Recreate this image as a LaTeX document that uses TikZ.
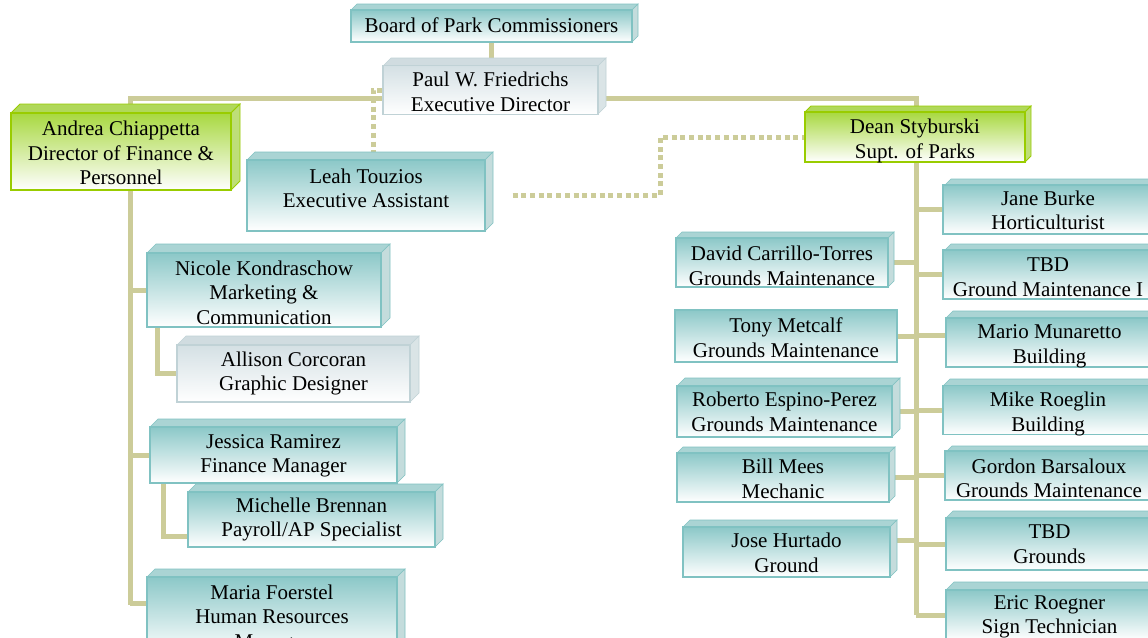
\documentclass[tikz,border=0pt]{standalone}
\usepackage{fontspec}
\setmainfont{Liberation Serif}
\definecolor{connc}{RGB}{204,204,153}
\definecolor{tealedge}{RGB}{128,194,194}
\definecolor{tealtop}{RGB}{140,200,200}
\definecolor{tealside}{RGB}{196,220,220}
\definecolor{tealcap}{RGB}{170,212,212}
\definecolor{greenedge}{RGB}{153,204,0}
\definecolor{greentop}{RGB}{168,216,64}
\definecolor{greenside}{RGB}{190,222,120}
\definecolor{greencap}{RGB}{176,216,90}
\definecolor{greyedge}{RGB}{192,210,214}
\definecolor{greytop}{RGB}{212,224,228}
\definecolor{greyside}{RGB}{218,228,230}
\definecolor{greycap}{RGB}{208,220,224}
\pgfdeclarelayer{paper}
\pgfdeclarelayer{lines}
\pgfsetlayers{paper,lines,main}
\tikzset{
  conn/.style={draw=connc, line width=5pt},
  dotconn/.style={draw=connc, line width=5pt, dash pattern=on 5pt off 3.7pt},
  base front/.style={rectangle, inner sep=0pt, line width=1.2pt,
    font=\fontsize{21}{24.5}\selectfont, text=black},
  teal front/.style={base front, draw=tealedge, top color=tealtop, bottom color=white},
  teal side/.style={fill=tealside, draw=tealedge, line width=0.6pt},
  teal cap/.style={fill=tealcap, draw=tealedge, line width=0.6pt},
  green front/.style={base front, draw=greenedge, line width=1.6pt, top color=greentop, bottom color=white},
  green side/.style={fill=greenside, draw=greenedge, line width=0.8pt},
  green cap/.style={fill=greencap, draw=greenedge, line width=0.8pt},
  grey front/.style={base front, draw=greyedge, top color=greytop, bottom color=white},
  grey side/.style={fill=greyside, draw=greyedge, line width=0.6pt},
  grey cap/.style={fill=greycap, draw=greyedge, line width=0.6pt},
}
% [#1 text raise] #2 scheme, #3 name, #4 left, #5 top, #6 right, #7 bottom, #8 depth, #9 text
\newcommand\orgbox[9][0pt]{%
  \fill[#2 cap] (#4,#5) -- ++(#8,-#8) -- ({#6+#8},{#5-#8}) -- (#6,#5) -- cycle;
  \fill[#2 side] (#6,#5) -- ++(#8,-#8) -- ({#6+#8},{#7-#8}) -- (#6,#7) -- cycle;
  \node[#2 front, minimum width={#6-#4}, minimum height={#7-#5}] (#3)
    at ({(#4+#6)/2},{(#5+#7)/2})
    {\raisebox{#1}[\height][\depth]{\begin{tabular}{@{}c@{}}#9\end{tabular}}};
}
\begin{document}
\begin{tikzpicture}[x=1pt,y=-1pt]
\useasboundingbox (0,0) rectangle (1148,637);
\begin{pgfonlayer}{paper}
  \fill[white] (0,0) rectangle (1148,637);
\end{pgfonlayer}
\clip (0,0) rectangle (1148,637);

% top of the chart
\orgbox[-2pt]{teal}{board}{351}{10}{632}{42}{6}{Board of Park Commissioners}
\orgbox[-4pt]{grey}{paul}{383}{66}{598}{114}{8}{Paul W. Friedrichs\\Executive Director}
\orgbox[-4pt]{green}{andrea}{11}{113}{231}{190}{9}{Andrea Chiappetta\\Director of Finance \&\\Personnel}
\orgbox[5pt]{teal}{leah}{247}{160}{485}{231}{8}{Leah Touzios\\Executive Assistant}
\orgbox[-4pt]{green}{dean}{805}{112}{1025}{162}{6}{Dean Styburski\\Supt. of Parks}

% finance & personnel
\orgbox[-5pt]{teal}{nicole}{147}{253}{381}{327}{9}{Nicole Kondraschow\\Marketing \&\\Communication}
\orgbox[0pt]{grey}{allison}{177}{345}{410}{402}{9}{Allison Corcoran\\Graphic Designer}
\orgbox[-0.5pt]{teal}{jessica}{150}{427}{397}{483}{8}{Jessica Ramirez\\Finance Manager}
\orgbox[0pt]{teal}{michelle}{188}{492}{435}{547}{8}{Michelle Brennan\\Payroll/AP Specialist}
\orgbox[-3pt]{teal}{maria}{147}{577}{397}{655}{8}{Maria Foerstel\\Human Resources\\Manager}

% parks, left column
\orgbox[-5.5pt]{teal}{david}{676}{238}{888}{287}{6}{David Carrillo-Torres\\Grounds Maintenance}
\orgbox[-4pt]{teal}{tony}{675}{310}{897}{362}{0}{Tony Metcalf\\Grounds Maintenance}
\orgbox[-2.5pt]{teal}{roberto}{677}{386}{892}{437}{8}{Roberto Espino-Perez\\Grounds Maintenance}
\orgbox[-3.5pt]{teal}{bill}{677}{453}{889}{502}{6}{Bill Mees\\Mechanic}
\orgbox[-3pt]{teal}{jose}{683}{527}{890}{577}{7}{Jose Hurtado\\Ground}

% parks, right column
\orgbox[-3pt]{teal}{jane}{943}{187}{1153}{232}{8}{Jane Burke\\Horticulturist}
\orgbox[-4.5pt]{teal}{tbda}{943}{252}{1153}{297}{8}{TBD\\Ground Maintenance I}
\orgbox[-3.5pt]{teal}{mario}{946}{318}{1153}{367}{7}{Mario Munaretto\\Building}
\orgbox[-4pt]{teal}{mike}{943}{386}{1153}{434}{7}{Mike Roeglin\\Building}
\orgbox[-5pt]{teal}{gordon}{945}{453}{1153}{498}{7}{Gordon Barsaloux\\Grounds Maintenance}
\orgbox[-2pt]{teal}{tbdb}{946}{518}{1153}{570}{7}{TBD\\Grounds}
\orgbox[-1.5pt]{teal}{eric}{946}{590}{1153}{640}{8}{Eric Roegner\\Sign Technician}

\begin{pgfonlayer}{lines}
  \coordinate (barL) at (130,98);
  \coordinate (barR) at (916,98);
  \coordinate (aEnd) at (130,605);
  \coordinate (dEnd) at (916,615);

  \draw[conn] (board.south) -- (board.south |- paul.north);
  \draw[conn] (andrea.north -| barL) -- (barL) -- (barR) -- (dean.north -| barR);

  % finance & personnel
  \draw[conn] (barL |- andrea.south) -- (aEnd);
  \draw[conn] (nicole.west) -- (nicole.west -| barL);
  \draw[conn] (jessica.west) -- (jessica.west -| barL);
  \draw[conn] ([yshift=13pt]maria.west) -- ([yshift=13pt]maria.west -| barL);
  \draw[conn] (nicole.south -| 157,0) |- (allison.west);
  \draw[conn] (jessica.south -| 163,0) |- ([yshift=-17pt]michelle.west);

  % parks
  \draw[conn] (dean.south -| barR) -- (dEnd);
  \foreach \b in {jane,tbda,mike,gordon,tbdb,eric}
    \draw[conn] (\b.west) -- (\b.west -| barR);
  \draw[conn] ([yshift=7pt]mario.west) -- ([yshift=7pt]mario.west -| barR);
  \foreach \b in {david,tony,roberto,bill}
    \draw[conn] (\b.east) -- (\b.east -| barR);
  \draw[conn] ([yshift=12pt]jose.east) -- ([yshift=12pt]jose.east -| barR);

  % dotted staff links
  \draw[dotconn] (paul.west) -| (leah.north -| 373,0);
  \draw[dotconn, shorten <=27pt] (leah.east) -- (leah.east -| 660,0) |- (dean.west);
\end{pgfonlayer}
\end{tikzpicture}
\end{document}
